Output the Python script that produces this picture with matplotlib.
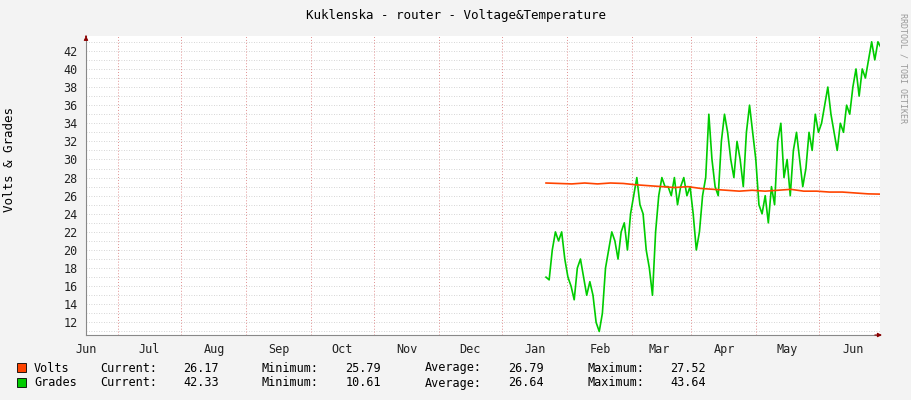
import numpy as np
import matplotlib
matplotlib.use("Agg")
import matplotlib.pyplot as plt
from matplotlib.patches import Rectangle

months = ["Jun","Jul","Aug","Sep","Oct","Nov","Dec","Jan","Feb","Mar","Apr","May","Jun"]
month_days = [0,30,61,92,122,153,183,214,245,273,304,334,365]
grades = [17,16.7,20,22,21,22,19,17,16,14.5,18,19,17,15,16.5,15,12,11,13,18,20,22,21,19,22,23,20,24,26,28,
          25,24,20,18,15,22,26,28,27,27,26,28,25,27,28,26,27,24,20,22,26,28,35,30,27,26,32,35,33,30,
          28,32,30,27,33,36,33,30,25,24,26,23,27,25,32,34,28,30,26,31,33,30,27,29,33,31,35,33,34,36,
          38,35,33,31,34,33,36,35,38,40,37,40,39,41,43,41,43,42.33]
volts = [27.4,27.35,27.3,27.4,27.3,27.4,27.35,27.2,27.1,27.0,26.9,27.0,26.8,26.7,26.6,26.5,26.6,26.5,26.6,26.7,26.5,26.5,26.4,26.4,26.3,26.2,26.17]
start_day, end_day = 219.0, 378.5

fig = plt.figure(figsize=(9.11,4.0), dpi=100, facecolor="#f3f3f3")
ax = fig.add_axes([86/911, 65/400, 794/911, 299/400], facecolor="white")
mono = "DejaVu Sans Mono"
gd = np.linspace(start_day, end_day, len(grades))
vd = np.linspace(start_day, end_day, len(volts))
ymin, ymax = 10.61, 43.64
for y in np.arange(11, 44, 1):
    ax.axhline(y, color="#c8c8c8", lw=0.6, ls=(0,(1,2)), zorder=0)
for d in month_days[:-1]:
    ax.axvline(d+15, color="#e09090", lw=0.7, ls=(0,(1,2)), zorder=0)
ax.plot(gd, grades, color="#00cc00", lw=1.2, zorder=3)
ax.plot(vd, volts, color="#ff4400", lw=1.2, zorder=3)
ax.set_xlim(0, 378)
ax.set_ylim(ymin, ymax)
ax.set_yticks(range(12, 44, 2))
ax.set_xticks(month_days)
ax.set_xticklabels(months)
for s in ["top","right"]:
    ax.spines[s].set_visible(False)
ax.spines["left"].set_color("#888888"); ax.spines["bottom"].set_color("#888888")
ax.tick_params(length=0, labelsize=8.5, colors="#222222", pad=6)
for l in ax.get_xticklabels()+ax.get_yticklabels():
    l.set_family(mono)
ax.annotate("", xy=(1.006,0), xytext=(0.99,0), xycoords="axes fraction",
            arrowprops=dict(arrowstyle="-|>", color="#8b0000", lw=0.8, mutation_scale=6))
ax.annotate("", xy=(0,1.01), xytext=(0,0.99), xycoords="axes fraction",
            arrowprops=dict(arrowstyle="-|>", color="#8b0000", lw=0.8, mutation_scale=6))
fig.text(0.5, 1-15/400, "Kuklenska - router - Voltage&Temperature", ha="center", va="center", family=mono, fontsize=9)
fig.text(10/911, 0.6, "Volts & Grades", rotation=90, ha="center", va="center", family=mono, fontsize=9)
fig.text(903/911, 0.83, "RRDTOOL / TOBI OETIKER", rotation=270, ha="center", va="center", family=mono, fontsize=6, color="#999999")
rows = [("Volts", "#ff4400", 26.17, 25.79, 26.79, 27.52), ("Grades", "#00cc00", 42.33, 10.61, 26.64, 43.64)]
for i, (n, c, cu, mi, av, ma) in enumerate(rows):
    yy = 1-(368+15*i)/400
    fig.patches.append(Rectangle((17/911, yy-4/400), 9/911, 9/400, transform=fig.transFigure, facecolor=c, edgecolor="black", lw=0.6))
    fig.text(34/911, yy, n, va="center", family=mono, fontsize=8.5)
    for lab, val, px in [("Current:", cu, 100), ("Minimum:", mi, 262), ("Average:", av, 425), ("Maximum:", ma, 587)]:
        fig.text(px/911, yy, lab, va="center", family=mono, fontsize=8.5)
        fig.text((px+119)/911, yy, f"{val:.2f}", va="center", ha="right", family=mono, fontsize=8.5)
fig.savefig("out.png", dpi=100, facecolor=fig.get_facecolor())
